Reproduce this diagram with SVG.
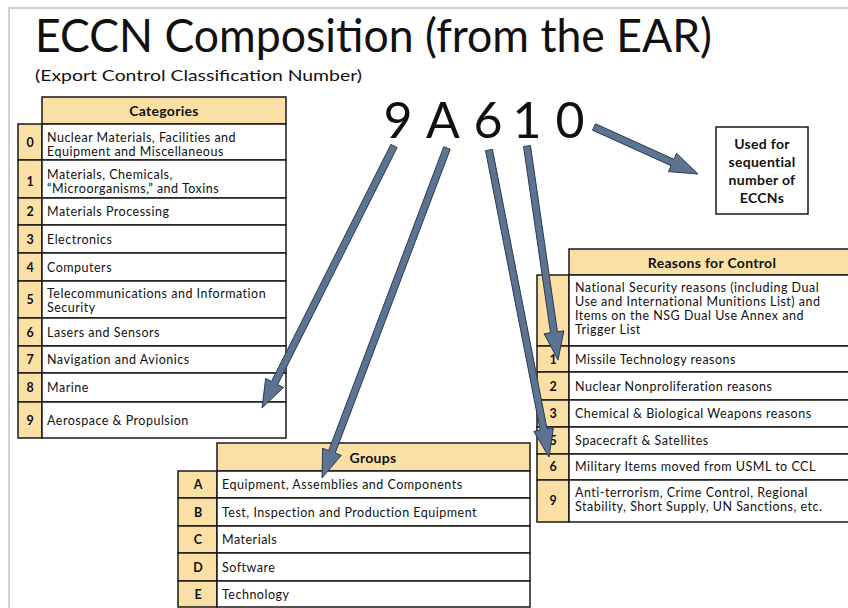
<svg xmlns="http://www.w3.org/2000/svg" width="848" height="608" viewBox="0 0 848 608">
<style>
text{font-family:Lato,"Open Sans","Liberation Sans",sans-serif;fill:#111}
.t{font-size:12.5px;letter-spacing:0.5px}
.n{font-size:12.5px;font-weight:bold;text-anchor:middle}
.h{font-size:14px;font-weight:bold;text-anchor:middle;letter-spacing:0.3px}
.y{fill:#FBE0A6;stroke:#1a1a1a;stroke-width:1.5}
.w{fill:#fff;stroke:#1a1a1a;stroke-width:1.5}
.big{font-size:50px;text-anchor:middle}
.arr{fill:#5C7391;stroke:#2b3a4f;stroke-width:1}
</style>
<rect width="848" height="608" fill="#fff"/>
<path d="M9,608 V8 H848" fill="none" stroke="#cfcfcf" stroke-width="2"/>
<g id="title">
<text x="35" y="52" font-size="46" textLength="677" lengthAdjust="spacingAndGlyphs">ECCN Composition (from the EAR)</text>
<text x="35" y="81" font-size="16" textLength="327" lengthAdjust="spacingAndGlyphs">(Export Control Classification Number)</text>
</g>
<g id="code">
<text class="big" x="398" y="138">9</text>
<text class="big" x="443" y="138">A</text>
<text class="big" x="488" y="138">6</text>
<text class="big" x="527" y="138">1</text>
<text class="big" x="570" y="138">0</text>
</g>
<g id="categories">
<rect class="y" x="42" y="97" width="244" height="27"/>
<text class="h" x="164" y="116">Categories</text>
<rect class="y" x="18" y="124" width="24" height="36"/><rect class="w" x="42" y="124" width="244" height="36"/>
<rect class="y" x="18" y="160" width="24" height="38"/><rect class="w" x="42" y="160" width="244" height="38"/>
<rect class="y" x="18" y="198" width="24" height="27"/><rect class="w" x="42" y="198" width="244" height="27"/>
<rect class="y" x="18" y="225" width="24" height="28"/><rect class="w" x="42" y="225" width="244" height="28"/>
<rect class="y" x="18" y="253" width="24" height="28"/><rect class="w" x="42" y="253" width="244" height="28"/>
<rect class="y" x="18" y="281" width="24" height="37"/><rect class="w" x="42" y="281" width="244" height="37"/>
<rect class="y" x="18" y="318" width="24" height="28"/><rect class="w" x="42" y="318" width="244" height="28"/>
<rect class="y" x="18" y="346" width="24" height="27"/><rect class="w" x="42" y="346" width="244" height="27"/>
<rect class="y" x="18" y="373" width="24" height="29"/><rect class="w" x="42" y="373" width="244" height="29"/>
<rect class="y" x="18" y="402" width="24" height="36"/><rect class="w" x="42" y="402" width="244" height="36"/>
<text class="n" x="30" y="147">0</text>
<text class="t" x="47" y="142">Nuclear Materials, Facilities and</text>
<text class="t" x="47" y="156">Equipment and Miscellaneous</text>
<text class="n" x="30" y="186">1</text>
<text class="t" x="47" y="179">Materials, Chemicals,</text>
<text class="t" x="47" y="193">“Microorganisms,” and Toxins</text>
<text class="n" x="30" y="216">2</text>
<text class="t" x="47" y="216">Materials Processing</text>
<text class="n" x="30" y="244">3</text>
<text class="t" x="47" y="244">Electronics</text>
<text class="n" x="30" y="272">4</text>
<text class="t" x="47" y="272">Computers</text>
<text class="n" x="30" y="304">5</text>
<text class="t" x="47" y="298">Telecommunications and Information</text>
<text class="t" x="47" y="312">Security</text>
<text class="n" x="30" y="337">6</text>
<text class="t" x="47" y="337">Lasers and Sensors</text>
<text class="n" x="30" y="364">7</text>
<text class="t" x="47" y="364">Navigation and Avionics</text>
<text class="n" x="30" y="392">8</text>
<text class="t" x="47" y="392">Marine</text>
<text class="n" x="30" y="425">9</text>
<text class="t" x="47" y="425">Aerospace &amp; Propulsion</text>
</g>
<g id="groups">
<rect class="y" x="217" y="443" width="313" height="28"/>
<text class="h" x="373" y="463">Groups</text>
<rect class="y" x="178" y="471" width="39" height="27"/><rect class="w" x="217" y="471" width="313" height="27"/>
<rect class="y" x="178" y="498" width="39" height="28"/><rect class="w" x="217" y="498" width="313" height="28"/>
<rect class="y" x="178" y="526" width="39" height="27"/><rect class="w" x="217" y="526" width="313" height="27"/>
<rect class="y" x="178" y="553" width="39" height="28"/><rect class="w" x="217" y="553" width="313" height="28"/>
<rect class="y" x="178" y="581" width="39" height="26"/><rect class="w" x="217" y="581" width="313" height="26"/>
<text class="n" x="198" y="489" font-weight="normal">A</text>
<text class="t" x="222" y="489">Equipment, Assemblies and Components</text>
<text class="n" x="198" y="517" font-weight="normal">B</text>
<text class="t" x="222" y="517">Test, Inspection and Production Equipment</text>
<text class="n" x="198" y="544" font-weight="normal">C</text>
<text class="t" x="222" y="544">Materials</text>
<text class="n" x="198" y="572" font-weight="normal">D</text>
<text class="t" x="222" y="572">Software</text>
<text class="n" x="198" y="599" font-weight="normal">E</text>
<text class="t" x="222" y="599">Technology</text>
</g>
<g id="reasons">
<rect class="y" x="569" y="249" width="290" height="26"/>
<text class="h" x="712" y="268">Reasons for Control</text>
<rect class="y" x="537" y="275" width="32" height="71"/><rect class="w" x="569" y="275" width="290" height="71"/>
<rect class="y" x="537" y="346" width="32" height="26"/><rect class="w" x="569" y="346" width="290" height="26"/>
<rect class="y" x="537" y="372" width="32" height="28"/><rect class="w" x="569" y="372" width="290" height="28"/>
<rect class="y" x="537" y="400" width="32" height="27"/><rect class="w" x="569" y="400" width="290" height="27"/>
<rect class="y" x="537" y="427" width="32" height="27"/><rect class="w" x="569" y="427" width="290" height="27"/>
<rect class="y" x="537" y="454" width="32" height="26"/><rect class="w" x="569" y="454" width="290" height="26"/>
<rect class="y" x="537" y="480" width="32" height="42"/><rect class="w" x="569" y="480" width="290" height="42"/>
<text class="t" x="575" y="292">National Security reasons (including Dual</text>
<text class="t" x="575" y="306">Use and International Munitions List) and</text>
<text class="t" x="575" y="320">Items  on the NSG Dual Use Annex and</text>
<text class="t" x="575" y="334">Trigger List</text>
<text class="n" x="553" y="364">1</text>
<text class="t" x="575" y="364">Missile Technology reasons</text>
<text class="n" x="553" y="391">2</text>
<text class="t" x="575" y="391">Nuclear Nonproliferation reasons</text>
<text class="n" x="553" y="418">3</text>
<text class="t" x="575" y="418">Chemical &amp; Biological Weapons reasons</text>
<text class="n" x="553" y="445">5</text>
<text class="t" x="575" y="445">Spacecraft &amp; Satellites</text>
<text class="n" x="553" y="471">6</text>
<text class="t" x="575" y="471">Military Items moved from USML to CCL</text>
<text class="n" x="553" y="505">9</text>
<text class="t" x="575" y="497">Anti-terrorism, Crime Control, Regional</text>
<text class="t" x="575" y="511">Stability, Short Supply, UN Sanctions, etc.</text>
</g>
<g id="sequential">
<rect x="716" y="127" width="92" height="87" fill="#fff" stroke="#1a1a1a" stroke-width="1.5"/>
<text class="h" x="762" y="149">Used for</text>
<text class="h" x="762" y="167">sequential</text>
<text class="h" x="762" y="185">number of</text>
<text class="h" x="762" y="203">ECCNs</text>
</g>
<g id="connectors">
<polygon class="arr" points="390.87,144.43 271.47,381.43 265.67,378.5 262,408 283.53,387.5 277.73,384.57 397.13,147.57"/>
<polygon class="arr" points="443.73,146.76 328.65,450.58 322.57,448.28 322,478 341.27,455.36 335.19,453.06 450.27,149.24"/>
<polygon class="arr" points="485.57,150.67 540.2,430.19 533.82,431.44 549,457 553.44,427.6 547.06,428.85 492.43,149.33"/>
<polygon class="arr" points="523.54,146.5 550.52,332.79 544.08,333.72 558,360 563.88,330.86 557.44,331.79 530.46,145.5"/>
<polygon class="arr" points="592.56,130.19 671.04,165.66 668.36,171.59 698,174 676.6,153.35 673.92,159.28 595.44,123.81"/>
</g>
</svg>
